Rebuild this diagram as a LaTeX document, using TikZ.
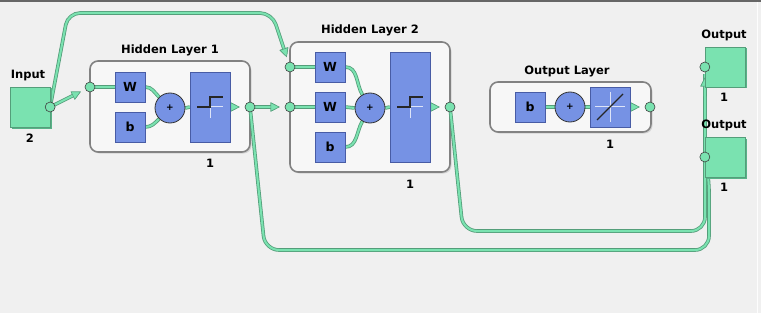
\documentclass[tikz,border=0pt]{standalone}
\usepackage{fontspec}
\setmainfont{DejaVu Sans}
\usetikzlibrary{arrows.meta,calc,shadows}
\definecolor{bg}{RGB}{240,240,240}
\definecolor{grn}{RGB}{122,226,176}
\definecolor{grnd}{RGB}{84,158,122}
\definecolor{grnbev}{RGB}{88,178,136}
\definecolor{blu}{RGB}{118,146,228}
\definecolor{blud}{RGB}{72,92,165}
\definecolor{lay}{RGB}{247,247,247}
\definecolor{layd}{RGB}{130,130,130}
\pgfdeclarelayer{canvas}
\pgfdeclarelayer{back}
\pgfdeclarelayer{wires}
\pgfsetlayers{canvas,back,wires,main}
\begin{document}
\begin{tikzpicture}[x=1pt,y=-1pt,
  lab/.style={font=\bfseries\fontsize{11.5}{13}\selectfont, inner sep=0pt},
  layerbox/.style={draw=layd, line width=1.6pt, fill=lay, rounded corners=8pt,
    inner sep=0pt, drop shadow={shadow xshift=1.5pt, shadow yshift=-1.5pt, opacity=0.25}},
  blubox/.style={fill=blu, draw=blud, line width=0.4pt, inner sep=0pt,
    drop shadow={shadow xshift=1.3pt, shadow yshift=-1.3pt, fill=blud, opacity=1},
    font=\bfseries\fontsize{12.5}{13}\selectfont},
  gbox/.style={fill=grn, draw=grnd, line width=0.3pt, minimum size=40pt, inner sep=0pt,
    drop shadow={shadow xshift=1.5pt, shadow yshift=-1.5pt, fill=grnbev, opacity=1}},
  sumc/.style={circle, draw=black!80, fill=blu, line width=0.8pt, minimum size=30pt,
    inner sep=0pt, font=\bfseries\fontsize{9}{9}\selectfont},
  port/.style={circle, draw=black!75, fill=grn, line width=0.6pt, minimum size=10pt, inner sep=0pt},
  wire/.style={draw=grn, line width=2pt, preaction={draw=grnd, line width=3.6pt}},
  tipin/.style={-{Triangle[length=9pt,width=9pt,fill=grn,color=grnd,line width=0.5pt]}, shorten >=5pt},
  fcurve/.style={line width=1.3pt, black!85},
  faxis/.style={line width=1pt, white!75!blu},
]
\begin{pgfonlayer}{canvas}
\useasboundingbox (0,0) rectangle (761,313);
\fill[bg] (0,0) rectangle (761,313);
\fill[black!60] (0,0) rectangle (761,2);
\draw[white!85!bg, line width=1pt] (757.5,2) -- (757.5,313);
\end{pgfonlayer}

% layer frames
\begin{pgfonlayer}{back}
\node[layerbox, minimum width=160pt, minimum height=91pt] (L1) at (170,106.5) {};
\node[layerbox, minimum width=160pt, minimum height=130pt] (L2) at (370,107) {};
\node[layerbox, minimum width=161pt, minimum height=50pt] (L3) at (570.5,107) {};
\end{pgfonlayer}

% labels
\node[lab] (tIn) at (28,76) {Input};
\node[lab] (nIn) at (30,138) {2};
\node[lab] (tL1) at (170,50) {Hidden Layer 1};
\node[lab] (nL1) at (210,163) {1};
\node[lab] (tL2) at (370,30) {Hidden Layer 2};
\node[lab] (nL2) at (410,184) {1};
\node[lab] (tL3) at (567,71) {Output Layer};
\node[lab] (nL3) at (610,144) {1};
\node[lab] (tO1) at (724,35) {Output};
\node[lab] (nO1) at (724,97) {1};
\node[lab] (tO2) at (724,125) {Output};
\node[lab] (nO2) at (724,187) {1};

% green terminals
\node[gbox] (In) at (30,107) {};
\node[gbox] (O1) at (725,67) {};
\node[gbox] (O2) at (725,157) {};

% hidden layer 1
\node[blubox, minimum size=30pt] (W11) at (130,87) {W};
\node[blubox, minimum size=30pt] (B1) at (130,127) {b};
\node[sumc] (S1) at (170,108) {+};
\node[blubox, minimum width=40pt, minimum height=70pt] (T1) at (210,107) {};

% hidden layer 2
\node[blubox, minimum size=30pt] (W21) at (330,67) {W};
\node[blubox, minimum size=30pt] (W22) at (330,107) {W};
\node[blubox, minimum size=30pt] (B2) at (330,147) {b};
\node[sumc] (S2) at (370,108) {+};
\node[blubox, minimum width=40pt, minimum height=110pt] (T2) at (410,107) {};

% output layer
\node[blubox, minimum size=30pt] (B3) at (530,107) {b};
\node[sumc] (S3) at (570,107) {+};
\node[blubox, minimum width=40pt, minimum height=40pt] (T3) at (610,107) {};

% transfer icons
\draw[faxis] (T1.center) -- ++(13,0) (T1.center) ++(0,-10) -- ++(0,21);
\draw[fcurve] ($(T1.center)+(-13,0)$) -- (T1.center) -- ++(0,-10) -- ++(13,0);
\draw[faxis] (T2.center) -- ++(13,0) (T2.center) ++(0,-10) -- ++(0,21);
\draw[fcurve] ($(T2.center)+(-13,0)$) -- (T2.center) -- ++(0,-10) -- ++(13,0);
\draw[faxis] ($(T3.center)+(-15,0)$) -- ++(30,0) ($(T3.center)+(0,-15)$) -- ++(0,30);
\draw[fcurve] ($(T3.center)+(-13,13)$) -- ($(T3.center)+(13,-13)$);

% ports
\node[port] (InP) at (In.east) {};
\node[port] (O1P) at (O1.west) {};
\node[port] (O2P) at (O2.west) {};
\node[port] (L1in) at (90,87) {};
\node[port] (L1out) at (250,107) {};
\node[port] (L2in1) at (290,67) {};
\node[port] (L2in2) at (290,107) {};
\node[port] (L2out) at (450,107) {};
\node[port] (L3out) at (650,107) {};

% wires
\begin{pgfonlayer}{wires}
\draw[wire, tipin] (InP.center) -- (L1in);
\draw[wire, tipin, rounded corners=12pt] (InP.center) -- (68,13) -- (272,13) -- (L2in1);
\draw[wire] (L1in.center) -- (W11.west);
\draw[wire] (W11.east) to[out=0, in=135] (S1.135);
\draw[wire] (B1.east) to[out=0, in=-135] (S1.-135);
\draw[wire] (S1.east) -- (T1.west);
\draw[wire, tipin] (T1.east) -- (L1out);
\draw[wire, tipin] (L1out.center) -- (L2in2);
\draw[wire, tipin, rounded corners=14pt] (L1out.center) -- (265,250) -- (709,250) -- (709,178) -- (O2P);
\draw[wire] (L2in1.center) -- (W21.west);
\draw[wire] (L2in2.center) -- (W22.west);
\draw[wire] (W21.east) to[out=0, in=120] (S2.120);
\draw[wire] (W22.east) -- (S2.west);
\draw[wire] (B2.east) to[out=0, in=-120] (S2.-120);
\draw[wire] (S2.east) -- (T2.west);
\draw[wire, tipin] (T2.east) -- (L2out);
\draw[wire, tipin, rounded corners=14pt] (L2out.center) -- (463,231) -- (705,231) -- (705,88) -- (O1P);
\draw[wire] (B3.east) -- (S3.west);
\draw[wire] (S3.east) -- (T3.west);
\draw[wire, tipin] (T3.east) -- (L3out);
\end{pgfonlayer}
\end{tikzpicture}
\end{document}
